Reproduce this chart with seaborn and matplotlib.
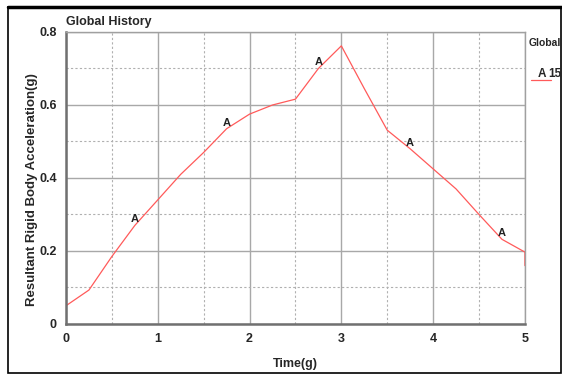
import numpy as np
import pandas as pd
import seaborn as sns
import matplotlib
matplotlib.use("Agg")
from matplotlib import pyplot as plt
from matplotlib.patches import Rectangle
from matplotlib.ticker import MultipleLocator

# values
time = [0.0, 0.25, 0.5, 0.75, 1.0, 1.25, 1.5, 1.75, 2.0, 2.25, 2.5, 2.75, 3.0,
        3.25, 3.5, 3.75, 4.0, 4.25, 4.5, 4.75, 5.0, 5.0]
accel = [0.05, 0.093, 0.185, 0.27, 0.34, 0.41, 0.47, 0.535, 0.575, 0.60, 0.616,
         0.70, 0.762, 0.645, 0.531, 0.48, 0.425, 0.37, 0.30, 0.232, 0.197, 0.16]
marker_times = [0.75, 1.75, 2.75, 3.75, 4.75]
marker_vals = [0.27, 0.535, 0.70, 0.48, 0.232]

df = pd.DataFrame({"Time": time, "Accel": accel})

sns.set_style("white")
plt.rcParams["font.family"] = ["Liberation Sans Narrow", "Liberation Sans", "DejaVu Sans"]
plt.rcParams["font.weight"] = "bold"

fig = plt.figure(figsize=(5.62, 3.76), dpi=100)
ax = fig.add_axes([0.1174, 0.1383, 0.8166, 0.7766])

sns.lineplot(data=df, x="Time", y="Accel", sort=False, color="#ff5a5a",
             linewidth=0.9, ax=ax, estimator=None)

for t, v in zip(marker_times, marker_vals):
    ax.text(t, v + 0.003, "A", fontsize=8, ha="center", va="bottom", color="#222222")

ax.set_xlim(0, 5)
ax.set_ylim(0, 0.8)
ax.xaxis.set_major_locator(MultipleLocator(1))
ax.xaxis.set_minor_locator(MultipleLocator(0.5))
ax.yaxis.set_minor_locator(MultipleLocator(0.1))
ax.set_yticks([0, 0.2, 0.4, 0.6, 0.8])
ax.set_yticklabels(["0", "0.2", "0.4", "0.6", "0.8"])
ax.grid(which="major", color="#a8a8a8", linewidth=1.0, linestyle="-")
ax.grid(which="minor", color="#b0b0b0", linewidth=0.8, linestyle=(0, (2, 2)))
ax.set_axisbelow(True)

for side in ["top", "right"]:
    ax.spines[side].set_color("#a0a0a0")
    ax.spines[side].set_linewidth(1.0)
for side in ["left", "bottom"]:
    ax.spines[side].set_color("#707070")
    ax.spines[side].set_linewidth(1.8)

ax.tick_params(which="major", direction="inout", length=7, width=1.2, color="#606060",
               labelsize=9, pad=3)
ax.tick_params(which="minor", length=0)

ax.set_xlabel("Time(g)", fontsize=9, fontweight="bold", labelpad=9)
ax.set_ylabel("Resultant Rigid Body Acceleration(g)", fontsize=9.5, fontweight="bold",
              family=["Liberation Sans", "DejaVu Sans"])
ax.yaxis.set_label_coords(-0.062, 0.46)
ax.text(0.0, 1.012, "Global History", transform=ax.transAxes, fontsize=9,
        ha="left", va="bottom")

# legend on the right
fig.text(529 / 562, 1 - 43 / 376, "Global", fontsize=7.5, ha="left", va="center")
fig.text(538 / 562, 1 - 74 / 376, "A", fontsize=8.5, ha="left", va="center")
fig.text(548 / 562, 1 - 74 / 376, "15", fontsize=8.5, ha="left", va="center")
fig.add_artist(plt.Line2D([531 / 562, 551 / 562], [1 - 80 / 376, 1 - 80 / 376],
                          color="#ff5a5a", linewidth=0.9))

# outer frame
fig.add_artist(Rectangle((8 / 562, 3 / 376), 553 / 562, 366 / 376, fill=False,
                         edgecolor="black", linewidth=1.2, transform=fig.transFigure))
fig.add_artist(plt.Line2D([8 / 562, 1], [1 - 7 / 376, 1 - 7 / 376], color="black",
                          linewidth=2.5))

fig.savefig("out.png", dpi=100)
